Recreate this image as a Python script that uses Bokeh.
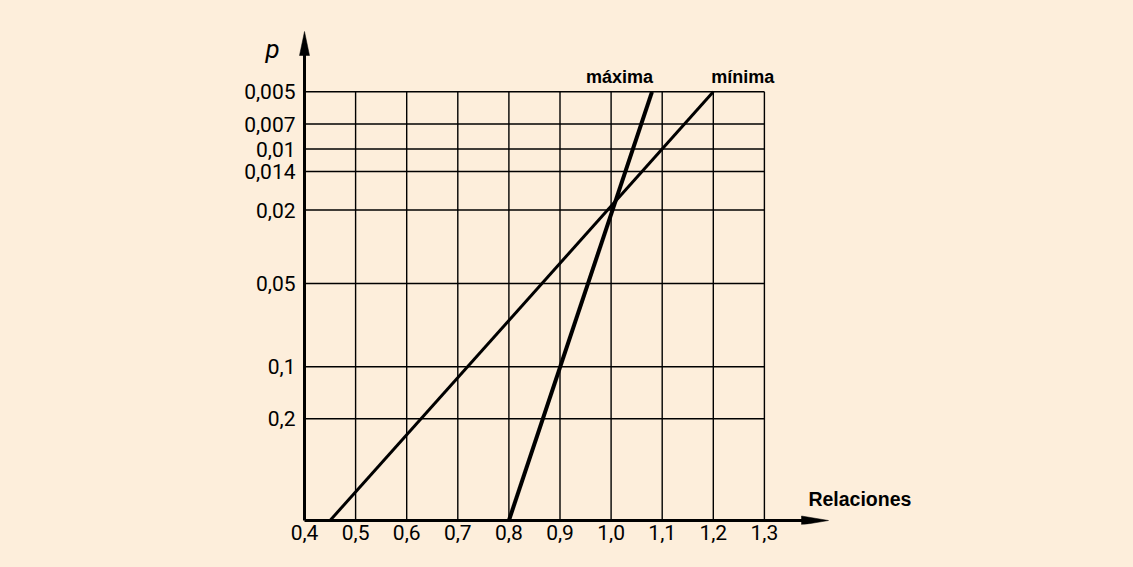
from bokeh.plotting import figure
from bokeh.models import FixedTicker, Label
from bokeh.embed import file_html
from bokeh.resources import INLINE

# ---- data -------------------------------------------------------------
# x axis: "Relaciones"
x_ticks = [0.4, 0.5, 0.6, 0.7, 0.8, 0.9, 1.0, 1.1, 1.2, 1.3]
x_labels = ["0,4", "0,5", "0,6", "0,7", "0,8", "0,9", "1,0", "1,1", "1,2", "1,3"]

# y axis: p (non-uniform probability graduation, as drawn)
p_ticks = [0.005, 0.007, 0.01, 0.014, 0.02, 0.05, 0.1, 0.2]
p_labels = ["0,005", "0,007", "0,01", "0,014", "0,02", "0,05", "0,1", "0,2"]
p_scale = [428.7, 396.5, 371.5, 349.0, 310.5, 237.0, 153.7, 101.7]  # height of each graduation

# series: (x on the x axis) -> (x at p = 0,005)
maxima_x = [0.80, 1.08]
minima_x = [0.45, 1.20]
series_p = [None, 0.005]   # None = on the x axis

# ---- helpers ----------------------------------------------------------
scale_of = dict(zip(p_ticks, p_scale))


def p_pos(v):
    return 0.0 if v is None else scale_of[v]


BG = "#FDEEDB"
INK = "#000000"
W, H = 1133, 567
AXIS_X, AXIS_Y = 304, 520        # screen position of the axes origin
FRAME_L = 236                    # frame starts left of the y axis (room for "p")
PAD = 4
BOTTOM = H - AXIS_Y - PAD
PX = 511.0                       # screen px per x unit
x_start = x_ticks[0] - (AXIS_X - FRAME_L) / PX
x_end = x_ticks[0] + (W - AXIS_X) / PX
y_start, y_end = -PAD, float(AXIS_Y)

p = figure(width=W, height=H, x_range=(x_start, x_end), y_range=(y_start, y_end),
           output_backend="svg", toolbar_location=None,
           min_border_left=FRAME_L, min_border_bottom=BOTTOM,
           min_border_top=0, min_border_right=0,
           background_fill_color=BG, border_fill_color=BG,
           outline_line_color=None)
p.xgrid.visible = False
p.ygrid.visible = False

TICK_FONT = "Roboto"

xa = p.xaxis[0]
xa.ticker = FixedTicker(ticks=x_ticks)
xa.major_label_overrides = {t: l for t, l in zip(x_ticks, x_labels)}
ya = p.yaxis[0]
ya.ticker = FixedTicker(ticks=p_scale)
ya.major_label_overrides = {t: l for t, l in zip(p_scale, p_labels)}
for ax in (xa, ya):
    ax.axis_line_color = None
    ax.major_tick_line_color = None
    ax.minor_tick_line_color = None
    ax.major_tick_out = 0
    ax.major_tick_in = 0
    ax.major_label_text_font = TICK_FONT
    ax.major_label_text_font_size = "21px"
    ax.major_label_text_color = INK
xa.major_label_standoff = 0
ya.major_label_standoff = -(AXIS_X - FRAME_L) + 9

# grid (drawn as segments so it stops at the chart box)
top_line = p_pos(p_ticks[0])
vx = x_ticks[1:]
p.segment(x0=vx, y0=[0] * len(vx), x1=vx, y1=[top_line] * len(vx),
          line_color=INK, line_width=1.4)
p.segment(x0=[x_ticks[0]] * len(p_scale), y0=p_scale,
          x1=[x_ticks[-1]] * len(p_scale), y1=p_scale,
          line_color=INK, line_width=1.4)

# axes with arrows
y_tip = 489.0
x_tip = x_ticks[0] + 524 / PX
p.line([x_ticks[0], x_ticks[0]], [0, y_tip - 12], line_color=INK, line_width=3)
p.line([x_ticks[0], x_tip - 14 / PX], [0, 0], line_color=INK, line_width=3)
hw = 5 / PX
p.patch([x_ticks[0] - hw, x_ticks[0], x_ticks[0] + hw],
        [y_tip - 24, y_tip, y_tip - 24], color=INK, line_width=0.5)
p.patch([x_tip - 27 / PX, x_tip, x_tip - 27 / PX], [-4.5, 0, 4.5], color=INK, line_width=0.5)

# series
p.line(maxima_x, [p_pos(v) for v in series_p], line_color=INK, line_width=4)
p.line(minima_x, [p_pos(v) for v in series_p], line_color=INK, line_width=3)

# labels
LBL_FONT = "Liberation Sans"
p.add_layout(Label(x=maxima_x[-1], y=p_pos(series_p[-1]), x_offset=1, y_offset=15,
                   text="máxima", text_align="right", text_baseline="alphabetic",
                   text_font=LBL_FONT, text_font_style="bold", text_font_size="18px",
                   text_color=INK))
p.add_layout(Label(x=minima_x[-1], y=p_pos(series_p[-1]), x_offset=-2, y_offset=15,
                   text="mínima", text_align="left", text_baseline="alphabetic",
                   text_font=LBL_FONT, text_font_style="bold", text_font_size="18px",
                   text_color=INK))
p.add_layout(Label(x=x_ticks[-1], y=0, x_offset=44, y_offset=22,
                   text="Relaciones", text_align="left", text_baseline="alphabetic",
                   text_font=LBL_FONT, text_font_style="bold", text_font_size="19.5px",
                   text_color=INK))
p.add_layout(Label(x=x_ticks[0], y=y_tip, x_offset=-39, y_offset=-17.5,
                   text="p", text_align="left", text_baseline="alphabetic",
                   text_font=TICK_FONT, text_font_style="italic", text_font_size="26px",
                   text_color=INK))

html = file_html(p, INLINE)
html = html.replace("<head>", "<head><style>html,body{background:%s;}</style>" % BG, 1)
open("out.html", "w").write(html)
